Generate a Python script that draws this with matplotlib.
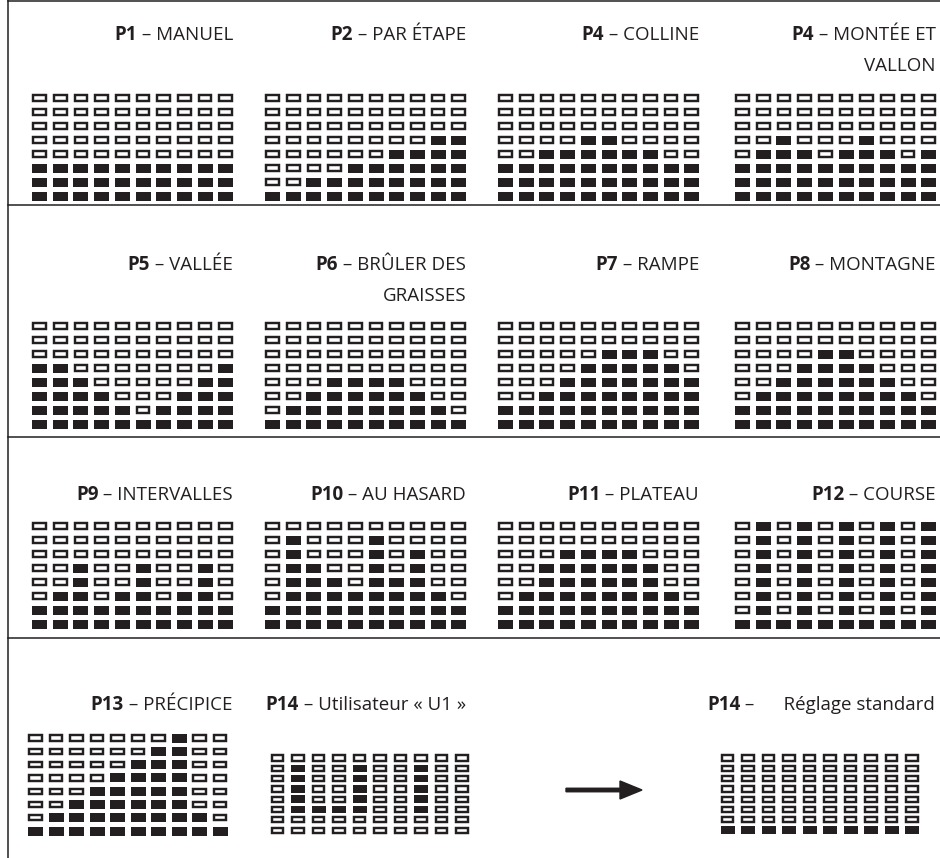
## Programme grids of a treadmill / bike console (P1 .. P14)
## Each grid: 10 columns x 8 levels, filled cells = effort level

import matplotlib
matplotlib.use("Agg")
from matplotlib import pyplot as plt
from matplotlib.patches import Rectangle

plt.rcParams['font.family'] = ['Open Sans', 'DejaVu Sans']

### Data ###
# filled cells per column, counted from the bottom
manuel      = [3, 3, 3, 3, 3, 3, 3, 3, 3, 3]
par_etape   = [1, 1, 2, 2, 3, 3, 4, 4, 5, 5]
colline     = [3, 3, 4, 4, 5, 5, 4, 4, 3, 3]
montee      = [3, 4, 5, 4, 3, 4, 5, 4, 3, 4]
vallee      = [5, 5, 4, 3, 2, 1, 2, 3, 4, 5]
graisses    = [1, 2, 3, 4, 4, 4, 4, 3, 2, 1]
rampe       = [2, 2, 3, 4, 5, 6, 6, 6, 5, 4]
montagne    = [2, 3, 4, 5, 6, 6, 5, 4, 3, 2]
intervalles = [2, 3, 5, 2, 3, 5, 2, 3, 5, 2]
hasard      = [2, 7, 5, 4, 3, 7, 4, 6, 3, 2]
plateau     = [2, 3, 5, 6, 6, 6, 6, 5, 3, 2]
course      = [1, 8, 1, 8, 1, 8, 1, 8, 1, 8]
precipice   = [1, 2, 3, 4, 5, 6, 7, 8, 2, 1]
standard    = [1, 1, 1, 1, 1, 1, 1, 1, 1, 1]

# user profile "U1" is drawn cell by cell (top row first)
u1_rows = [
    "..........",
    ".#..#..#..",
    ".#..#..#..",
    ".#..#..#..",
    ".#..#..#..",
    ".####..#..",
    "..........",
    "..........",
]

codes = ["P1", "P2", "P4", "P4",
         "P5", "P6", "P7", "P8",
         "P9", "P10", "P11", "P12",
         "P13", "P14", "P14"]
names = ["MANUEL", "PAR ÉTAPE", "COLLINE", "MONTÉE ET\nVALLON",
         "VALLÉE", "BRÛLER DES\nGRAISSES", "RAMPE", "MONTAGNE",
         "INTERVALLES", "AU HASARD", "PLATEAU", "COURSE",
         "PRÉCIPICE", "Utilisateur « U1 »", "Réglage standard"]
seps = [" – "] * 14 + [" –      "]
##################

N_ROWS = 8
INK = '#231f20'

def heights_to_rows(h):
    rows = []
    for r in range(N_ROWS):
        level = N_ROWS - r
        rows.append("".join("#" if v >= level else "." for v in h))
    return rows

grids = [manuel, par_etape, colline, montee,
         vallee, graisses, rampe, montagne,
         intervalles, hasard, plateau, course,
         precipice, u1_rows, standard]

## layout: (left col centre, first row centre, col pitch, row pitch, cell w, cell h, title right, title y)
col_left = [39.5, 272.5, 505.5, 742.5]
band_rows = [98, 326, 526]
band_title = [35, 265, 495]
layout = []
for b in range(3):
    for c in range(4):
        layout.append((col_left[c], band_rows[b], 20.7, 14.0, 15, 9, col_left[c] + 193.5, band_title[b]))
layout.append((35.5, 738, 20.5, 13.3, 15, 9, 232, 705))
layout.append((277.5, 758, 20.5, 10.3, 14, 7.5, 466, 705))
layout.append((727.5, 758, 20.5, 10.3, 14, 7.5, 935, 705))

fig = plt.figure(figsize=(9.4, 8.58), dpi=100)
ax = fig.add_axes([0, 0, 1, 1])
ax.set_xlim(0, 940)
ax.set_ylim(858, 0)
ax.axis('off')

# frame lines
ax.plot([8, 8], [0, 858], color=INK, lw=1.1)
for y in [1, 205, 437, 638]:
    ax.plot([8, 940], [y, y], color=INK, lw=1.1)

renderer = fig.canvas.get_renderer()
FS = 13.5

for k, g in enumerate(grids):
    x0, y0, dx, dy, cw, ch_, tx, ty = layout[k]
    rows = g if isinstance(g[0], str) else heights_to_rows(g)
    for r, line in enumerate(rows):
        for c, ch in enumerate(line):
            xc = x0 + c * dx
            yc = y0 + r * dy
            if ch == "#":
                ax.add_patch(Rectangle((xc - cw / 2, yc - ch_ / 2), cw, ch_,
                                       facecolor=INK, edgecolor='none'))
            else:
                ax.add_patch(Rectangle((xc - (cw - 2.3) / 2, yc - 2.6), cw - 2.3, 5.2,
                                       facecolor='white', edgecolor=INK, lw=1.75))

    # title: bold code + normal name, right aligned
    lines = names[k].split("\n")
    t = ax.text(tx, ty, seps[k] + lines[0], ha='right', va='center', fontsize=FS, color=INK)
    w = t.get_window_extent(renderer).width
    ax.text(tx - w, ty, codes[k], ha='right', va='center', fontsize=FS,
            fontweight='bold', color=INK)
    for i, extra in enumerate(lines[1:]):
        ax.text(tx, ty + 31 * (i + 1), extra, ha='right', va='center', fontsize=FS, color=INK)

# arrow from user profile to standard setting
ax.arrow(566, 790, 76, 0, width=3.5, head_width=18, head_length=22,
         length_includes_head=True, color=INK)

fig.savefig("out.png", dpi=100)
